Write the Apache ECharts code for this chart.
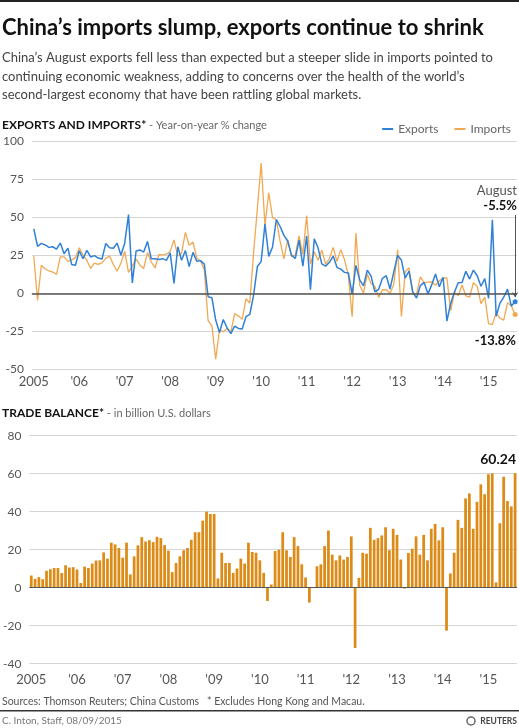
<!DOCTYPE html>
<html><head><meta charset="utf-8">
<script src="https://cdn.jsdelivr.net/npm/echarts@6/dist/echarts.min.js"></script>
<style>html,body{margin:0;padding:0;background:#fff}#c{width:519px;height:728px}</style>
</head><body><div id="c"></div>
<script>
// ---- Data ----
const years = [2005, 2006, 2007, 2008, 2009, 2010, 2011, 2012, 2013, 2014, 2015];
const yearLabels = ['2005', "'06", "'07", "'08", "'09", "'10", "'11", "'12", "'13", "'14", "'15"];
const monthNames = ['01','02','03','04','05','06','07','08','09','10','11','12'];
const lastYearMonths = 8; // data through August 2015

// Exports, year-on-year % change (Jan 2005 - Aug 2015)
const exportsYoY = [
  42.3, 30.8, 32.8, 31.8, 30.2, 30.6, 29.1, 33.0, 26.0, 29.7, 19.0, 18.5,
  28.0, 22.7, 28.3, 23.9, 24.8, 23.2, 22.6, 32.8, 29.9, 29.6, 33.0, 25.0,
  33.1, 51.7, 6.9, 27.8, 28.5, 27.1, 34.1, 22.7, 22.8, 22.2, 22.8, 21.7,
  26.6, 6.5, 30.6, 21.8, 28.1, 17.6, 26.9, 21.1, 21.5, 19.2, -2.2, -2.8,
  -17.5, -25.7, -17.1, -22.6, -26.4, -21.4, -23.0, -23.4, -15.2, -13.8, -1.2, 17.7,
  21.0, 45.7, 24.3, 30.5, 48.5, 43.9, 38.1, 34.4, 25.1, 22.9, 34.9, 17.9,
  37.7, 2.4, 35.8, 29.9, 19.4, 17.9, 20.4, 24.5, 17.1, 15.9, 13.8, 13.4,
  -0.5, 18.4, 8.9, 4.9, 15.3, 11.3, 1.0, 2.7, 9.9, 11.6, 2.9, 14.1,
  25.0, 21.8, 10.0, 14.7, 1.0, -3.1, 5.1, 7.2, -0.3, 5.6, 12.7, 4.3,
  10.6, -18.1, -6.6, 0.9, 7.0, 7.2, 14.5, 9.4, 15.3, 11.6, 4.7, 9.7,
  -3.3, 48.3, -15.0, -6.4, -2.5, 2.8, -8.3, -5.5
];

// Imports, year-on-year % change (Jan 2005 - Aug 2015)
const importsYoY = [
  24.5, -4.6, 18.5, 16.0, 14.7, 14.0, 12.5, 24.0, 24.0, 21.0, 22.0, 23.5,
  30.0, 25.0, 21.8, 16.4, 19.8, 19.0, 20.0, 23.0, 24.5, 19.0, 14.5, 20.0,
  27.6, 13.7, 18.1, 22.5, 18.7, 16.4, 26.8, 20.6, 16.7, 25.5, 25.3, 25.7,
  27.6, 35.1, 24.6, 26.4, 40.0, 31.6, 33.7, 23.1, 21.3, 15.6, -17.9, -21.3,
  -43.1, -24.1, -25.1, -23.0, -25.2, -13.2, -14.9, -17.0, -3.5, -6.4, 26.7, 55.9,
  85.5, 44.7, 66.0, 49.7, 48.3, 34.1, 22.7, 35.2, 24.1, 25.3, 37.7, 25.6,
  51.0, 19.4, 27.3, 21.8, 28.4, 19.3, 22.9, 30.2, 20.9, 28.7, 22.1, 11.8,
  -15.3, 39.6, 5.3, 0.3, 12.7, 6.3, 4.7, -2.6, 2.4, 2.4, 0.0, 6.0,
  28.8, -15.2, 14.1, 16.8, -0.3, -0.7, 10.9, 7.0, 7.4, 7.6, 5.3, 8.3,
  10.0, 10.1, -11.3, 0.8, -1.6, 5.5, -1.6, -2.4, 7.0, 4.6, -6.7, -2.4,
  -19.9, -20.5, -12.7, -16.2, -17.6, -6.1, -8.1, -13.8
];

// Trade balance, billion U.S. dollars (Jan 2005 - Aug 2015)
const tradeBalance = [
  6.4, 4.7, 5.6, 4.5, 8.9, 9.7, 10.4, 10.4, 7.7, 11.8, 10.6, 10.8,
  9.6, 2.5, 11.1, 10.4, 12.7, 14.3, 14.4, 18.6, 15.3, 23.7, 22.8, 20.9,
  15.8, 23.7, 7.0, 16.5, 22.3, 26.6, 24.3, 25.0, 24.0, 26.8, 26.1, 22.4,
  19.5, 8.2, 13.0, 16.5, 19.7, 20.9, 25.2, 29.2, 29.2, 35.3, 40.0, 38.8,
  38.8, 4.9, 18.4, 13.0, 13.0, 7.8, 10.1, 15.3, 12.7, 23.7, 18.8, 18.4,
  14.4, 7.8, -7.0, 1.7, 19.3, 20.0, 29.2, 19.7, 16.2, 26.6, 21.9, 12.3,
  5.4, -7.8, 0.1, 11.3, 12.3, 21.9, 30.1, 17.4, 14.4, 17.0, 14.8, 16.2,
  27.0, -31.7, 5.2, 18.4, 17.9, 31.5, 25.2, 26.1, 27.5, 31.8, 19.7, 31.0,
  27.8, 14.8, -0.5, 18.3, 20.5, 27.0, 17.4, 27.8, 14.4, 31.0, 33.6, 24.9,
  31.8, -22.6, 7.5, 18.4, 35.7, 31.5, 47.0, 49.6, 31.0, 45.2, 54.4, 49.2,
  59.7, 60.2, 2.8, 33.9, 58.4, 45.6, 42.8, 60.24
];

// ---- Build categories ----
const months = [];
years.forEach((y, yi) => {
  const n = (yi === years.length - 1) ? lastYearMonths : 12;
  for (let m = 0; m < n; m++) months.push(y + '-' + monthNames[m]);
});
const lastCat = months[months.length - 1];

const FONT = "'Source Sans Pro', Lato, 'Noto Sans', sans-serif";
const BLUE = '#2f80d6';
const ORANGE = '#f1a851';
const BAR = '#dc8b16';
const GRID = '#d5d5d5';
const ZERO = '#555555';

function xAxisFor(idx, margin) {
  return {
    type: 'category', gridIndex: idx, data: months, boundaryGap: true,
    axisLine: { show: false }, axisTick: { show: false }, splitLine: { show: false },
    axisLabel: {
      interval: (i) => i % 12 === 0,
      formatter: (v, i) => yearLabels[Math.floor(i / 12)],
      color: '#555', fontSize: 13, margin: margin, fontFamily: FONT
    }
  };
}

const chart = echarts.init(document.getElementById('c'), null, { renderer: 'canvas' });
const option = {
  animation: false,
  textStyle: { fontFamily: FONT },
  legend: {
    data: ['Exports', 'Imports'], right: 3, top: 118, icon: 'rect',
    itemWidth: 11, itemHeight: 2, itemGap: 16,
    textStyle: { color: '#666', fontSize: 12, fontFamily: FONT }
  },
  grid: [
    { left: 27, right: 2, top: 141, height: 228.6 },
    { left: 27, right: 2, top: 435.7, height: 228 }
  ],
  xAxis: [xAxisFor(0, 6), xAxisFor(1, 10)],
  yAxis: [
    { type: 'value', gridIndex: 0, min: -50, max: 100, interval: 25,
      axisLine: { show: false }, axisTick: { show: false },
      axisLabel: { color: '#555', fontSize: 12, margin: 8, fontFamily: FONT },
      splitLine: { lineStyle: { color: GRID, width: 1 } } },
    { type: 'value', gridIndex: 1, min: -40, max: 80, interval: 20,
      axisLine: { show: false }, axisTick: { show: false },
      axisLabel: { color: '#555', fontSize: 12, margin: 8, fontFamily: FONT },
      splitLine: { lineStyle: { color: GRID, width: 1 } } }
  ],
  series: [
    { name: 'Imports', type: 'line', xAxisIndex: 0, yAxisIndex: 0, data: importsYoY,
      symbol: 'none', lineStyle: { color: ORANGE, width: 1.3 }, itemStyle: { color: ORANGE },
      markLine: { silent: true, symbol: 'none', label: { show: false },
        lineStyle: { color: ZERO, width: 1.5, type: 'solid' }, data: [{ yAxis: 0 }] },
      markPoint: { symbol: 'circle', symbolSize: 5, label: { show: false },
        itemStyle: { color: ORANGE },
        data: [{ coord: [lastCat, importsYoY[importsYoY.length - 1]] }] } },
    { name: 'Exports', type: 'line', xAxisIndex: 0, yAxisIndex: 0, data: exportsYoY,
      symbol: 'none', lineStyle: { color: BLUE, width: 1.5 }, itemStyle: { color: BLUE },
      markLine: { silent: true, symbol: ['none', 'arrow'], symbolSize: 5, label: { show: false },
        lineStyle: { color: '#555', width: 1, type: 'solid' },
        data: [[{ coord: [lastCat, 51.5] }, { coord: [lastCat, -2.5] }]] },
      markPoint: { symbol: 'circle', symbolSize: 5, label: { show: false },
        itemStyle: { color: BLUE },
        data: [{ coord: [lastCat, exportsYoY[exportsYoY.length - 1]] }] } },
    { name: 'Trade balance', type: 'bar', xAxisIndex: 1, yAxisIndex: 1, data: tradeBalance,
      barWidth: '72%', itemStyle: { color: BAR },
      markLine: { silent: true, symbol: 'none', label: { show: false },
        lineStyle: { color: ZERO, width: 1.2, type: 'solid' }, data: [{ yAxis: 0 }] } }
  ],
  graphic: [
    { type: 'rect', shape: { x: 0, y: 0, width: 519, height: 2 }, style: { fill: '#222' } },
    { type: 'text', x: 2, y: 28, style: { text: 'China\u2019s imports slump, exports continue to shrink',
      font: "bold 22px " + FONT, fill: '#111', verticalAlign: 'middle' } },
    { type: 'text', x: 2, y: 49, style: { text:
      'China\u2019s August exports fell less than expected but a steeper slide in imports pointed to\ncontinuing economic weakness, adding to concerns over the health of the world\u2019s\nsecond-largest economy that have been rattling global markets.',
      font: "13px " + FONT, fill: '#444', lineHeight: 18.5 } },
    { type: 'text', x: 2, y: 125, style: { text: '{b|EXPORTS AND IMPORTS*}{n| - Year-on-year % change}',
      verticalAlign: 'middle',
      rich: { b: { font: "bold 12px " + FONT, fill: '#111' }, n: { font: "11px " + FONT, fill: '#666' } } } },
    { type: 'text', x: 2, y: 413, style: { text: '{b|TRADE BALANCE*}{n| - in billion U.S. dollars}',
      verticalAlign: 'middle',
      rich: { b: { font: "bold 12px " + FONT, fill: '#111' }, n: { font: "11px " + FONT, fill: '#666' } } } },
    { type: 'text', x: 517, y: 191, style: { text: 'August', font: "13px " + FONT, fill: '#555', align: 'right', verticalAlign: 'middle' } },
    { type: 'text', x: 517, y: 206, style: { text: '-5.5%', font: "bold 13px " + FONT, fill: '#111', align: 'right', verticalAlign: 'middle' } },
    { type: 'text', x: 516, y: 341, style: { text: '-13.8%', font: "bold 13px " + FONT, fill: '#111', align: 'right', verticalAlign: 'middle' } },
    { type: 'text', x: 516, y: 459, style: { text: '60.24', font: "bold 14px " + FONT, fill: '#111', align: 'right', verticalAlign: 'middle' } },
    { type: 'text', x: 2, y: 702, style: { text: 'Sources: Thomson Reuters; China Customs   * Excludes Hong Kong and Macau.',
      font: "10.5px " + FONT, fill: '#555', verticalAlign: 'middle' } },
    { type: 'rect', shape: { x: 0, y: 710, width: 519, height: 1.5 }, style: { fill: '#333' } },
    { type: 'text', x: 2, y: 721, style: { text: 'C. Inton, Staff, 08/09/2015', font: "10px " + FONT, fill: '#777', verticalAlign: 'middle' } },
    { type: 'circle', shape: { cx: 471, cy: 721, r: 4 }, style: { fill: 'none', stroke: '#666', lineWidth: 1.5 } },
    { type: 'text', x: 517, y: 721, style: { text: 'REUTERS', font: "bold 8.5px " + FONT, fill: '#444', align: 'right', verticalAlign: 'middle' } }
  ]
};
chart.setOption(option);
</script>
</body></html>
